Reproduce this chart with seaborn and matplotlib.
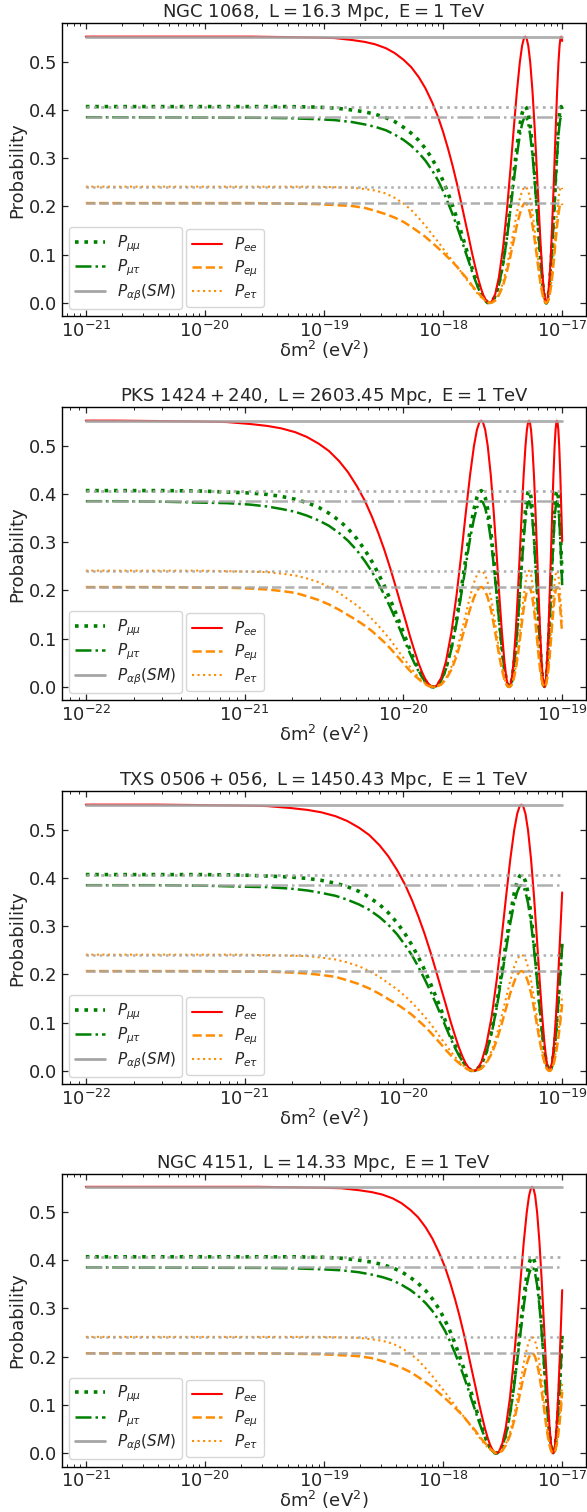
import numpy as np
import matplotlib
matplotlib.use("Agg")
import matplotlib.pyplot as plt
from matplotlib.lines import Line2D
from matplotlib.ticker import NullFormatter, FixedLocator, NullLocator
import seaborn as sns

# ---------------- data ----------------
titles = [r"$\mathrm{NGC\ 1068,\ L=16.3\ Mpc,\ E=1\ TeV}$",
          r"$\mathrm{PKS\ 1424+240,\ L=2603.45\ Mpc,\ E=1\ TeV}$",
          r"$\mathrm{TXS\ 0506+056,\ L=1450.43\ Mpc,\ E=1\ TeV}$",
          r"$\mathrm{NGC\ 4151,\ L=14.33\ Mpc,\ E=1\ TeV}$"]

# decade tick positions shown on each panel's x axis
xticks_p1 = [1e-21, 1e-20, 1e-19, 1e-18, 1e-17]
xticks_p2 = [1e-22, 1e-21, 1e-20, 1e-19]
xticks_p3 = [1e-22, 1e-21, 1e-20, 1e-19]
xticks_p4 = [1e-21, 1e-20, 1e-19, 1e-18, 1e-17]
yticks = [0.0, 0.1, 0.2, 0.3, 0.4, 0.5]

# standard-model (averaged) probabilities
sm_ee, sm_emu, sm_etau, sm_mumu, sm_mutau = 0.552, 0.207, 0.241, 0.407, 0.385

# ---------- panel 1 : NGC 1068 ----------
dm2_p1 = [1e-21, 2.45e-20, 4.9e-20, 8.575e-20, 1.225e-19, 1.715e-19, 2.205e-19, 2.695e-19,
          3.3075e-19, 3.92e-19, 4.655e-19, 5.39e-19, 6.2475e-19, 7.105e-19, 8.085e-19, 9.065e-19,
          1.0045e-18, 1.1025e-18, 1.2005e-18, 1.3108e-18, 1.421e-18, 1.5313e-18, 1.6415e-18,
          1.7518e-18, 1.862e-18, 1.9723e-18, 2.0825e-18, 2.1805e-18, 2.2785e-18, 2.3643e-18, 2.45e-18,
          2.5725e-18, 2.744e-18, 2.94e-18, 3.185e-18, 3.43e-18, 3.675e-18, 3.92e-18, 4.165e-18,
          4.41e-18, 4.606e-18, 4.7775e-18, 4.9e-18, 5.0225e-18, 5.194e-18, 5.39e-18, 5.635e-18,
          5.88e-18, 6.125e-18, 6.37e-18, 6.615e-18, 6.86e-18, 7.056e-18, 7.2275e-18, 7.35e-18,
          7.4725e-18, 7.644e-18, 7.84e-18, 8.085e-18, 8.33e-18, 8.575e-18, 8.82e-18, 9.065e-18,
          9.31e-18, 9.506e-18, 9.6775e-18, 9.8e-18, 9.9225e-18, 1e-17]
pee_p1 = [0.552, 0.552, 0.551, 0.550, 0.549, 0.545, 0.541, 0.536, 0.528, 0.518, 0.504, 0.489, 0.468,
          0.445, 0.416, 0.386, 0.353, 0.319, 0.285, 0.246, 0.207, 0.170, 0.136, 0.103, 0.075, 0.050,
          0.030, 0.016, 0.007, 0.002, 0.0,
          0.003, 0.019, 0.053, 0.114, 0.191, 0.276, 0.361, 0.438, 0.499, 0.533, 0.549, 0.552,
          0.549, 0.533, 0.499, 0.438, 0.361, 0.276, 0.191, 0.114, 0.053, 0.019, 0.003, 0.0,
          0.003, 0.019, 0.053, 0.114, 0.191, 0.276, 0.361, 0.438, 0.499, 0.533, 0.549, 0.552,
          0.549, 0.543]
pmumu_p1 = [0.407, 0.407, 0.407, 0.406, 0.404, 0.400, 0.396, 0.391, 0.384, 0.376, 0.364, 0.352, 0.337,
            0.320, 0.299, 0.276, 0.252, 0.227, 0.202, 0.174, 0.146, 0.120, 0.095, 0.072, 0.052, 0.035,
            0.021, 0.011, 0.005, 0.001, 0.0,
            0.003, 0.014, 0.039, 0.084, 0.141, 0.204, 0.266, 0.323, 0.368, 0.393, 0.404, 0.407,
            0.404, 0.393, 0.368, 0.323, 0.266, 0.204, 0.141, 0.084, 0.039, 0.014, 0.003, 0.0,
            0.003, 0.014, 0.039, 0.084, 0.141, 0.204, 0.266, 0.323, 0.368, 0.393, 0.404, 0.407,
            0.404, 0.400]
pmutau_p1 = [0.385, 0.384, 0.383, 0.381, 0.379, 0.375, 0.370, 0.365, 0.358, 0.349, 0.338, 0.326, 0.311,
             0.295, 0.275, 0.254, 0.231, 0.207, 0.184, 0.158, 0.133, 0.108, 0.086, 0.065, 0.047, 0.031,
             0.018, 0.010, 0.004, 0.001, 0.0,
             0.002, 0.014, 0.037, 0.079, 0.133, 0.193, 0.252, 0.306, 0.348, 0.371, 0.383, 0.385,
             0.383, 0.371, 0.348, 0.306, 0.252, 0.193, 0.133, 0.079, 0.037, 0.014, 0.002, 0.0,
             0.002, 0.014, 0.037, 0.079, 0.133, 0.193, 0.252, 0.306, 0.348, 0.371, 0.383, 0.385,
             0.383, 0.379]
pemu_p1 = [0.207, 0.207, 0.206, 0.205, 0.203, 0.201, 0.197, 0.191, 0.184, 0.177, 0.168, 0.158, 0.147,
           0.137, 0.125, 0.114, 0.104, 0.094, 0.085, 0.075, 0.064, 0.055, 0.046, 0.036, 0.028, 0.021,
           0.014, 0.009, 0.005, 0.002, 0.0,
           0.001, 0.005, 0.016, 0.036, 0.064, 0.097, 0.130, 0.161, 0.185, 0.199, 0.206, 0.207,
           0.206, 0.199, 0.185, 0.161, 0.130, 0.097, 0.064, 0.036, 0.016, 0.005, 0.001, 0.0,
           0.001, 0.005, 0.016, 0.036, 0.064, 0.097, 0.130, 0.161, 0.185, 0.199, 0.206, 0.207,
           0.206, 0.203]
petau_p1 = [0.241, 0.241, 0.241, 0.241, 0.240, 0.239, 0.236, 0.233, 0.227, 0.218, 0.206, 0.193, 0.176,
            0.160, 0.142, 0.127, 0.112, 0.099, 0.087, 0.075, 0.064, 0.053, 0.043, 0.034, 0.025, 0.018,
            0.012, 0.007, 0.004, 0.001, 0.0,
            0.001, 0.006, 0.018, 0.042, 0.075, 0.113, 0.151, 0.187, 0.216, 0.232, 0.239, 0.241,
            0.239, 0.232, 0.216, 0.187, 0.151, 0.113, 0.075, 0.042, 0.018, 0.006, 0.001, 0.0,
            0.001, 0.006, 0.018, 0.042, 0.075, 0.113, 0.151, 0.187, 0.216, 0.232, 0.239, 0.241,
            0.239, 0.236]

# ---------- panel 2 : PKS 1424+240 ----------
dm2_p2 = [1e-22, 1.545e-22, 3.09e-22, 5.4075e-22, 7.725e-22, 1.0815e-21, 1.3905e-21, 1.6995e-21,
          2.0858e-21, 2.472e-21, 2.9355e-21, 3.399e-21, 3.9398e-21, 4.4805e-21, 5.0985e-21, 5.7165e-21,
          6.3345e-21, 6.9525e-21, 7.5705e-21, 8.2658e-21, 8.961e-21, 9.6563e-21, 1.0352e-20,
          1.1047e-20, 1.1742e-20, 1.2437e-20, 1.3133e-20, 1.3751e-20, 1.4369e-20, 1.4909e-20, 1.545e-20,
          1.6223e-20, 1.7304e-20, 1.854e-20, 2.0085e-20, 2.163e-20, 2.3175e-20, 2.472e-20, 2.6265e-20,
          2.781e-20, 2.9046e-20, 3.0128e-20, 3.09e-20, 3.1673e-20, 3.2754e-20, 3.399e-20, 3.5535e-20,
          3.708e-20, 3.8625e-20, 4.017e-20, 4.1715e-20, 4.326e-20, 4.4496e-20, 4.5578e-20, 4.635e-20,
          4.7123e-20, 4.8204e-20, 4.944e-20, 5.0985e-20, 5.253e-20, 5.4075e-20, 5.562e-20, 5.7165e-20,
          5.871e-20, 5.9946e-20, 6.1028e-20, 6.18e-20, 6.2573e-20, 6.3654e-20, 6.489e-20, 6.6435e-20,
          6.798e-20, 6.9525e-20, 7.107e-20, 7.2615e-20, 7.416e-20, 7.5396e-20, 7.6478e-20, 7.725e-20,
          7.8023e-20, 7.9104e-20, 8.034e-20, 8.1885e-20, 8.343e-20, 8.4975e-20, 8.652e-20, 8.8065e-20,
          8.961e-20, 9.0846e-20, 9.1928e-20, 9.27e-20, 9.3473e-20, 9.4554e-20, 9.579e-20, 9.7335e-20,
          9.888e-20, 1e-19]
pee_p2 = [0.552, 0.552, 0.551, 0.550, 0.549, 0.545, 0.541, 0.536, 0.528, 0.518, 0.504, 0.489, 0.468,
          0.445, 0.416, 0.386, 0.353, 0.319, 0.285, 0.246, 0.207, 0.170, 0.136, 0.103, 0.075, 0.050,
          0.030, 0.016, 0.007, 0.002, 0.0,
          0.003, 0.019, 0.053, 0.114, 0.191, 0.276, 0.361, 0.438, 0.499, 0.533, 0.549, 0.552,
          0.549, 0.533, 0.499, 0.438, 0.361, 0.276, 0.191, 0.114, 0.053, 0.019, 0.003, 0.0,
          0.003, 0.019, 0.053, 0.114, 0.191, 0.276, 0.361, 0.438, 0.499, 0.533, 0.549, 0.552,
          0.549, 0.533, 0.499, 0.438, 0.361, 0.276, 0.191, 0.114, 0.053, 0.019, 0.003, 0.0,
          0.003, 0.019, 0.053, 0.114, 0.191, 0.276, 0.361, 0.438, 0.499, 0.533, 0.549, 0.552,
          0.549, 0.533, 0.499, 0.438, 0.361, 0.302]
pmumu_p2 = [0.407, 0.407, 0.407, 0.406, 0.404, 0.402, 0.399, 0.395, 0.389, 0.382, 0.372, 0.360, 0.345,
            0.328, 0.307, 0.284, 0.260, 0.235, 0.210, 0.181, 0.153, 0.126, 0.100, 0.076, 0.055, 0.037,
            0.022, 0.012, 0.005, 0.001, 0.0,
            0.003, 0.014, 0.039, 0.084, 0.141, 0.204, 0.266, 0.323, 0.368, 0.393, 0.404, 0.407,
            0.404, 0.393, 0.368, 0.323, 0.266, 0.204, 0.141, 0.084, 0.039, 0.014, 0.003, 0.0,
            0.003, 0.014, 0.039, 0.084, 0.141, 0.204, 0.266, 0.323, 0.368, 0.393, 0.404, 0.407,
            0.404, 0.393, 0.368, 0.323, 0.266, 0.204, 0.141, 0.084, 0.039, 0.014, 0.003, 0.0,
            0.003, 0.014, 0.039, 0.084, 0.141, 0.204, 0.266, 0.323, 0.368, 0.393, 0.404, 0.407,
            0.404, 0.393, 0.368, 0.323, 0.266, 0.223]
pmutau_p2 = [0.385, 0.385, 0.384, 0.382, 0.381, 0.378, 0.374, 0.369, 0.363, 0.355, 0.345, 0.334, 0.319,
             0.303, 0.283, 0.261, 0.239, 0.215, 0.191, 0.165, 0.139, 0.114, 0.090, 0.068, 0.049, 0.033,
             0.020, 0.011, 0.004, 0.001, 0.0,
             0.002, 0.014, 0.037, 0.079, 0.133, 0.193, 0.252, 0.306, 0.348, 0.371, 0.383, 0.385,
             0.383, 0.371, 0.348, 0.306, 0.252, 0.193, 0.133, 0.079, 0.037, 0.014, 0.002, 0.0,
             0.002, 0.014, 0.037, 0.079, 0.133, 0.193, 0.252, 0.306, 0.348, 0.371, 0.383, 0.385,
             0.383, 0.371, 0.348, 0.306, 0.252, 0.193, 0.133, 0.079, 0.037, 0.014, 0.002, 0.0,
             0.002, 0.014, 0.037, 0.079, 0.133, 0.193, 0.252, 0.306, 0.348, 0.371, 0.383, 0.385,
             0.383, 0.371, 0.348, 0.306, 0.252, 0.211]
pemu_p2 = [0.207, 0.207, 0.207, 0.206, 0.206, 0.204, 0.202, 0.199, 0.195, 0.188, 0.180, 0.171, 0.160,
           0.149, 0.138, 0.127, 0.116, 0.104, 0.093, 0.080, 0.067, 0.055, 0.043, 0.033, 0.024, 0.017,
           0.010, 0.006, 0.002, 0.001, 0.0,
           0.001, 0.005, 0.016, 0.036, 0.064, 0.097, 0.130, 0.161, 0.185, 0.199, 0.206, 0.207,
           0.206, 0.199, 0.185, 0.161, 0.130, 0.097, 0.064, 0.036, 0.016, 0.005, 0.001, 0.0,
           0.001, 0.005, 0.016, 0.036, 0.064, 0.097, 0.130, 0.161, 0.185, 0.199, 0.206, 0.207,
           0.206, 0.199, 0.185, 0.161, 0.130, 0.097, 0.064, 0.036, 0.016, 0.005, 0.001, 0.0,
           0.001, 0.005, 0.016, 0.036, 0.064, 0.097, 0.130, 0.161, 0.185, 0.199, 0.206, 0.207,
           0.206, 0.199, 0.185, 0.161, 0.130, 0.113]
petau_p2 = [0.241, 0.241, 0.241, 0.241, 0.240, 0.239, 0.238, 0.235, 0.231, 0.225, 0.217, 0.207, 0.195,
            0.182, 0.169, 0.155, 0.141, 0.127, 0.113, 0.098, 0.082, 0.067, 0.054, 0.041, 0.030, 0.020,
            0.013, 0.007, 0.003, 0.001, 0.0,
            0.001, 0.006, 0.018, 0.042, 0.075, 0.113, 0.151, 0.187, 0.216, 0.232, 0.239, 0.241,
            0.239, 0.232, 0.216, 0.187, 0.151, 0.113, 0.075, 0.042, 0.018, 0.006, 0.001, 0.0,
            0.001, 0.006, 0.018, 0.042, 0.075, 0.113, 0.151, 0.187, 0.216, 0.232, 0.239, 0.241,
            0.239, 0.232, 0.216, 0.187, 0.151, 0.113, 0.075, 0.042, 0.018, 0.006, 0.001, 0.0,
            0.001, 0.006, 0.018, 0.042, 0.075, 0.113, 0.151, 0.187, 0.216, 0.232, 0.239, 0.241,
            0.239, 0.232, 0.216, 0.187, 0.151, 0.135]

# ---------- panel 3 : TXS 0506+056 ----------
dm2_p3 = [1e-22, 2.77e-22, 5.54e-22, 9.695e-22, 1.385e-21, 1.939e-21, 2.493e-21, 3.047e-21,
          3.7395e-21, 4.432e-21, 5.263e-21, 6.094e-21, 7.0635e-21, 8.033e-21, 9.141e-21, 1.0249e-20,
          1.1357e-20, 1.2465e-20, 1.3573e-20, 1.482e-20, 1.6066e-20, 1.7313e-20, 1.8559e-20,
          1.9806e-20, 2.1052e-20, 2.2299e-20, 2.3545e-20, 2.4653e-20, 2.5761e-20, 2.6731e-20, 2.77e-20,
          2.9085e-20, 3.1024e-20, 3.324e-20, 3.601e-20, 3.878e-20, 4.155e-20, 4.432e-20, 4.709e-20,
          4.986e-20, 5.2076e-20, 5.4015e-20, 5.54e-20, 5.6785e-20, 5.8724e-20, 6.094e-20, 6.371e-20,
          6.648e-20, 6.925e-20, 7.202e-20, 7.479e-20, 7.756e-20, 7.9776e-20, 8.1715e-20, 8.31e-20,
          8.4485e-20, 8.6424e-20, 8.864e-20, 9.141e-20, 9.418e-20, 9.695e-20, 1e-19]
pee_p3 = [0.552, 0.552, 0.551, 0.550, 0.549, 0.545, 0.541, 0.536, 0.528, 0.518, 0.504, 0.489, 0.468,
          0.445, 0.416, 0.386, 0.353, 0.319, 0.285, 0.246, 0.207, 0.170, 0.136, 0.103, 0.075, 0.050,
          0.030, 0.016, 0.007, 0.002, 0.0,
          0.003, 0.019, 0.053, 0.114, 0.191, 0.276, 0.361, 0.438, 0.499, 0.533, 0.549, 0.552,
          0.549, 0.533, 0.499, 0.438, 0.361, 0.276, 0.191, 0.114, 0.053, 0.019, 0.003, 0.0,
          0.003, 0.019, 0.053, 0.114, 0.191, 0.276, 0.370]
pmumu_p3 = [0.407, 0.407, 0.407, 0.406, 0.404, 0.402, 0.399, 0.395, 0.389, 0.382, 0.372, 0.360, 0.345,
            0.328, 0.307, 0.284, 0.260, 0.235, 0.210, 0.181, 0.153, 0.126, 0.100, 0.076, 0.055, 0.037,
            0.022, 0.012, 0.005, 0.001, 0.0,
            0.003, 0.014, 0.039, 0.084, 0.141, 0.204, 0.266, 0.323, 0.368, 0.393, 0.404, 0.407,
            0.404, 0.393, 0.368, 0.323, 0.266, 0.204, 0.141, 0.084, 0.039, 0.014, 0.003, 0.0,
            0.003, 0.014, 0.039, 0.084, 0.141, 0.204, 0.272]
pmutau_p3 = [0.385, 0.385, 0.384, 0.382, 0.381, 0.378, 0.374, 0.369, 0.363, 0.355, 0.345, 0.334, 0.319,
             0.303, 0.283, 0.261, 0.239, 0.215, 0.191, 0.165, 0.139, 0.114, 0.090, 0.068, 0.049, 0.033,
             0.020, 0.011, 0.004, 0.001, 0.0,
             0.002, 0.014, 0.037, 0.079, 0.133, 0.193, 0.252, 0.306, 0.348, 0.371, 0.383, 0.385,
             0.383, 0.371, 0.348, 0.306, 0.252, 0.193, 0.133, 0.079, 0.037, 0.014, 0.002, 0.0,
             0.002, 0.014, 0.037, 0.079, 0.133, 0.193, 0.258]
pemu_p3 = [0.207, 0.207, 0.207, 0.206, 0.206, 0.204, 0.202, 0.199, 0.195, 0.188, 0.180, 0.171, 0.160,
           0.149, 0.138, 0.127, 0.116, 0.104, 0.093, 0.080, 0.067, 0.055, 0.043, 0.033, 0.024, 0.017,
           0.010, 0.006, 0.002, 0.001, 0.0,
           0.001, 0.005, 0.016, 0.036, 0.064, 0.097, 0.130, 0.161, 0.185, 0.199, 0.206, 0.207,
           0.206, 0.199, 0.185, 0.161, 0.130, 0.097, 0.064, 0.036, 0.016, 0.005, 0.001, 0.0,
           0.001, 0.005, 0.016, 0.036, 0.064, 0.097, 0.138]
petau_p3 = [0.241, 0.241, 0.241, 0.241, 0.240, 0.239, 0.238, 0.235, 0.231, 0.225, 0.217, 0.207, 0.195,
            0.182, 0.169, 0.155, 0.141, 0.127, 0.113, 0.098, 0.082, 0.067, 0.054, 0.041, 0.030, 0.020,
            0.013, 0.007, 0.003, 0.001, 0.0,
            0.001, 0.006, 0.018, 0.042, 0.075, 0.113, 0.151, 0.187, 0.216, 0.232, 0.239, 0.241,
            0.239, 0.232, 0.216, 0.187, 0.151, 0.113, 0.075, 0.042, 0.018, 0.006, 0.001, 0.0,
            0.001, 0.006, 0.018, 0.042, 0.075, 0.113, 0.158]

# ---------- panel 4 : NGC 4151 ----------
dm2_p4 = [1e-21, 2.8e-20, 5.6e-20, 9.8e-20, 1.4e-19, 1.96e-19, 2.52e-19, 3.08e-19, 3.78e-19, 4.48e-19,
          5.32e-19, 6.16e-19, 7.14e-19, 8.12e-19, 9.24e-19, 1.036e-18, 1.148e-18, 1.26e-18, 1.372e-18,
          1.498e-18, 1.624e-18, 1.75e-18, 1.876e-18, 2.002e-18, 2.128e-18, 2.254e-18, 2.38e-18,
          2.492e-18, 2.604e-18, 2.702e-18, 2.8e-18,
          2.94e-18, 3.136e-18, 3.36e-18, 3.64e-18, 3.92e-18, 4.2e-18, 4.48e-18, 4.76e-18, 5.04e-18,
          5.264e-18, 5.46e-18, 5.6e-18, 5.74e-18, 5.936e-18, 6.16e-18, 6.44e-18, 6.72e-18, 7.0e-18,
          7.28e-18, 7.56e-18, 7.84e-18, 8.064e-18, 8.26e-18, 8.4e-18,
          8.54e-18, 8.736e-18, 8.96e-18, 9.24e-18, 9.52e-18, 9.8e-18, 1e-17]
pee_p4 = [0.552, 0.552, 0.551, 0.550, 0.549, 0.545, 0.541, 0.536, 0.528, 0.518, 0.504, 0.489, 0.468,
          0.445, 0.416, 0.386, 0.353, 0.319, 0.285, 0.246, 0.207, 0.170, 0.136, 0.103, 0.075, 0.050,
          0.030, 0.016, 0.007, 0.002, 0.0,
          0.003, 0.019, 0.053, 0.114, 0.191, 0.276, 0.361, 0.438, 0.499, 0.533, 0.549, 0.552,
          0.549, 0.533, 0.499, 0.438, 0.361, 0.276, 0.191, 0.114, 0.053, 0.019, 0.003, 0.0,
          0.003, 0.019, 0.053, 0.114, 0.191, 0.276, 0.338]
pmumu_p4 = [0.407, 0.407, 0.407, 0.406, 0.404, 0.400, 0.396, 0.391, 0.384, 0.376, 0.364, 0.352, 0.337,
            0.320, 0.299, 0.276, 0.252, 0.227, 0.202, 0.174, 0.146, 0.120, 0.095, 0.072, 0.052, 0.035,
            0.021, 0.011, 0.005, 0.001, 0.0,
            0.003, 0.014, 0.039, 0.084, 0.141, 0.204, 0.266, 0.323, 0.368, 0.393, 0.404, 0.407,
            0.404, 0.393, 0.368, 0.323, 0.266, 0.204, 0.141, 0.084, 0.039, 0.014, 0.003, 0.0,
            0.003, 0.014, 0.039, 0.084, 0.141, 0.204, 0.249]
pmutau_p4 = [0.385, 0.384, 0.383, 0.381, 0.379, 0.375, 0.370, 0.365, 0.358, 0.349, 0.338, 0.326, 0.311,
             0.295, 0.275, 0.254, 0.231, 0.207, 0.184, 0.158, 0.133, 0.108, 0.086, 0.065, 0.047, 0.031,
             0.018, 0.010, 0.004, 0.001, 0.0,
             0.002, 0.014, 0.037, 0.079, 0.133, 0.193, 0.252, 0.306, 0.348, 0.371, 0.383, 0.385,
             0.383, 0.371, 0.348, 0.306, 0.252, 0.193, 0.133, 0.079, 0.037, 0.014, 0.002, 0.0,
             0.002, 0.014, 0.037, 0.079, 0.133, 0.193, 0.235]
pemu_p4 = [0.207, 0.207, 0.206, 0.205, 0.203, 0.201, 0.197, 0.191, 0.184, 0.177, 0.168, 0.158, 0.147,
           0.137, 0.125, 0.114, 0.104, 0.094, 0.085, 0.075, 0.064, 0.055, 0.046, 0.036, 0.028, 0.021,
           0.014, 0.009, 0.005, 0.002, 0.0,
           0.001, 0.005, 0.016, 0.036, 0.064, 0.097, 0.130, 0.161, 0.185, 0.199, 0.206, 0.207,
           0.206, 0.199, 0.185, 0.161, 0.130, 0.097, 0.064, 0.036, 0.016, 0.005, 0.001, 0.0,
           0.001, 0.005, 0.016, 0.036, 0.064, 0.097, 0.127]
petau_p4 = [0.241, 0.241, 0.241, 0.241, 0.240, 0.239, 0.236, 0.233, 0.227, 0.218, 0.206, 0.193, 0.176,
            0.160, 0.142, 0.127, 0.112, 0.099, 0.087, 0.075, 0.064, 0.053, 0.043, 0.034, 0.025, 0.018,
            0.012, 0.007, 0.004, 0.001, 0.0,
            0.001, 0.006, 0.018, 0.042, 0.075, 0.113, 0.151, 0.187, 0.216, 0.232, 0.239, 0.241,
            0.239, 0.232, 0.216, 0.187, 0.151, 0.113, 0.075, 0.042, 0.018, 0.006, 0.001, 0.0,
            0.001, 0.006, 0.018, 0.042, 0.075, 0.113, 0.147]

panels = [
    (dm2_p1, pee_p1, pemu_p1, petau_p1, pmumu_p1, pmutau_p1, xticks_p1),
    (dm2_p2, pee_p2, pemu_p2, petau_p2, pmumu_p2, pmutau_p2, xticks_p2),
    (dm2_p3, pee_p3, pemu_p3, petau_p3, pmumu_p3, pmutau_p3, xticks_p3),
    (dm2_p4, pee_p4, pemu_p4, petau_p4, pmumu_p4, pmutau_p4, xticks_p4),
]

# ---------------- style ----------------
sns.set_style("ticks")
plt.rcParams.update({
    "font.family": ["DejaVu Sans"],
    "xtick.direction": "in", "ytick.direction": "in",
    "xtick.top": True, "ytick.right": True,
    "axes.edgecolor": "black", "axes.linewidth": 1.0,
    "mathtext.fontset": "dejavusans",
})

fig = plt.figure(figsize=(5.87, 15.12), dpi=100)
tops = [23.3, 407.3, 791.3, 1173.5]
H = 1512.0
ax_h = 293.0
GREY = "#a6a6a6"
GDOT = (0, (1, 1.6))

for i, (dm2, pee, pemu, petau, pmumu, pmutau, xt) in enumerate(panels):
    top = tops[i]
    ax = fig.add_axes([62 / 587, (H - top - ax_h) / H, 524 / 587, ax_h / H])
    ax.set_xscale("log")
    x = np.asarray(dm2)
    sns.lineplot(x=x, y=pmumu, ax=ax, color="green", linestyle=GDOT, lw=2.6,
                 estimator=None, sort=False)
    sns.lineplot(x=x, y=pmutau, ax=ax, color="green", linestyle="-.", lw=1.8,
                 estimator=None, sort=False)
    sns.lineplot(x=x, y=pee, ax=ax, color="red", linestyle="-", lw=1.5,
                 estimator=None, sort=False)
    sns.lineplot(x=x, y=pemu, ax=ax, color="darkorange", linestyle="--", lw=1.8,
                 estimator=None, sort=False)
    sns.lineplot(x=x, y=petau, ax=ax, color="darkorange", linestyle=":", lw=1.5,
                 estimator=None, sort=False)
    xs = [x[0], x[-1]]
    for val, ls, lw in [(sm_ee, "-", 2.0), (sm_mumu, ":", 2.0), (sm_mutau, "-.", 1.8),
                        (sm_etau, ":", 1.8), (sm_emu, "--", 1.8)]:
        sns.lineplot(x=xs, y=[val, val], ax=ax, color=GREY, linestyle=ls, lw=lw,
                     alpha=0.9, estimator=None, sort=False)

    ax.set_title(titles[i], fontsize=13, pad=3)
    ax.set_xlabel(r"δm$^2$ (eV$^2$)", fontsize=13, labelpad=-1)
    ax.set_ylabel("Probability", fontsize=13, labelpad=2)

    # ticks: only inside the visible range
    lo, hi = ax.get_xlim()
    ax.xaxis.set_major_locator(FixedLocator(xt))
    minors = [m * 10.0 ** e for e in range(-23, -15) for m in range(2, 10)
              if lo <= m * 10.0 ** e <= hi]
    ax.xaxis.set_minor_locator(FixedLocator(minors))
    ax.xaxis.set_minor_formatter(NullFormatter())
    ax.set_xlim(lo, hi)
    ax.set_yticks(yticks)
    ax.yaxis.set_minor_locator(NullLocator())
    ax.tick_params(axis="both", which="major", labelsize=13, length=4, width=0.9)
    ax.tick_params(axis="x", which="major", pad=3)
    ax.tick_params(axis="x", which="minor", length=2, width=0.7, top=True, bottom=True)

    h1 = [Line2D([], [], color="green", linestyle=GDOT, lw=2.6),
          Line2D([], [], color="green", linestyle="-.", lw=1.8),
          Line2D([], [], color=GREY, linestyle="-", lw=2.0)]
    l1 = [r"$P_{\mu\mu}$", r"$P_{\mu\tau}$", r"$P_{\alpha\beta}(SM)$"]
    h2 = [Line2D([], [], color="red", linestyle="-", lw=1.5),
          Line2D([], [], color="darkorange", linestyle="--", lw=1.8),
          Line2D([], [], color="darkorange", linestyle=":", lw=1.5)]
    l2 = [r"$P_{ee}$", r"$P_{e\mu}$", r"$P_{e\tau}$"]
    leg1 = ax.legend(h1, l1, loc="lower left", bbox_to_anchor=(0.013, 0.025), fontsize=11,
                     frameon=True, handlelength=2.0, handletextpad=0.75,
                     borderaxespad=0.0, labelspacing=0.25, borderpad=0.4)
    ax.add_artist(leg1)
    ax.legend(h2, l2, loc="lower left", bbox_to_anchor=(0.236, 0.031), fontsize=11,
              frameon=True, handlelength=2.0, handletextpad=0.75,
              borderaxespad=0.0, labelspacing=0.25, borderpad=0.4)

fig.savefig("out.png", dpi=100)
